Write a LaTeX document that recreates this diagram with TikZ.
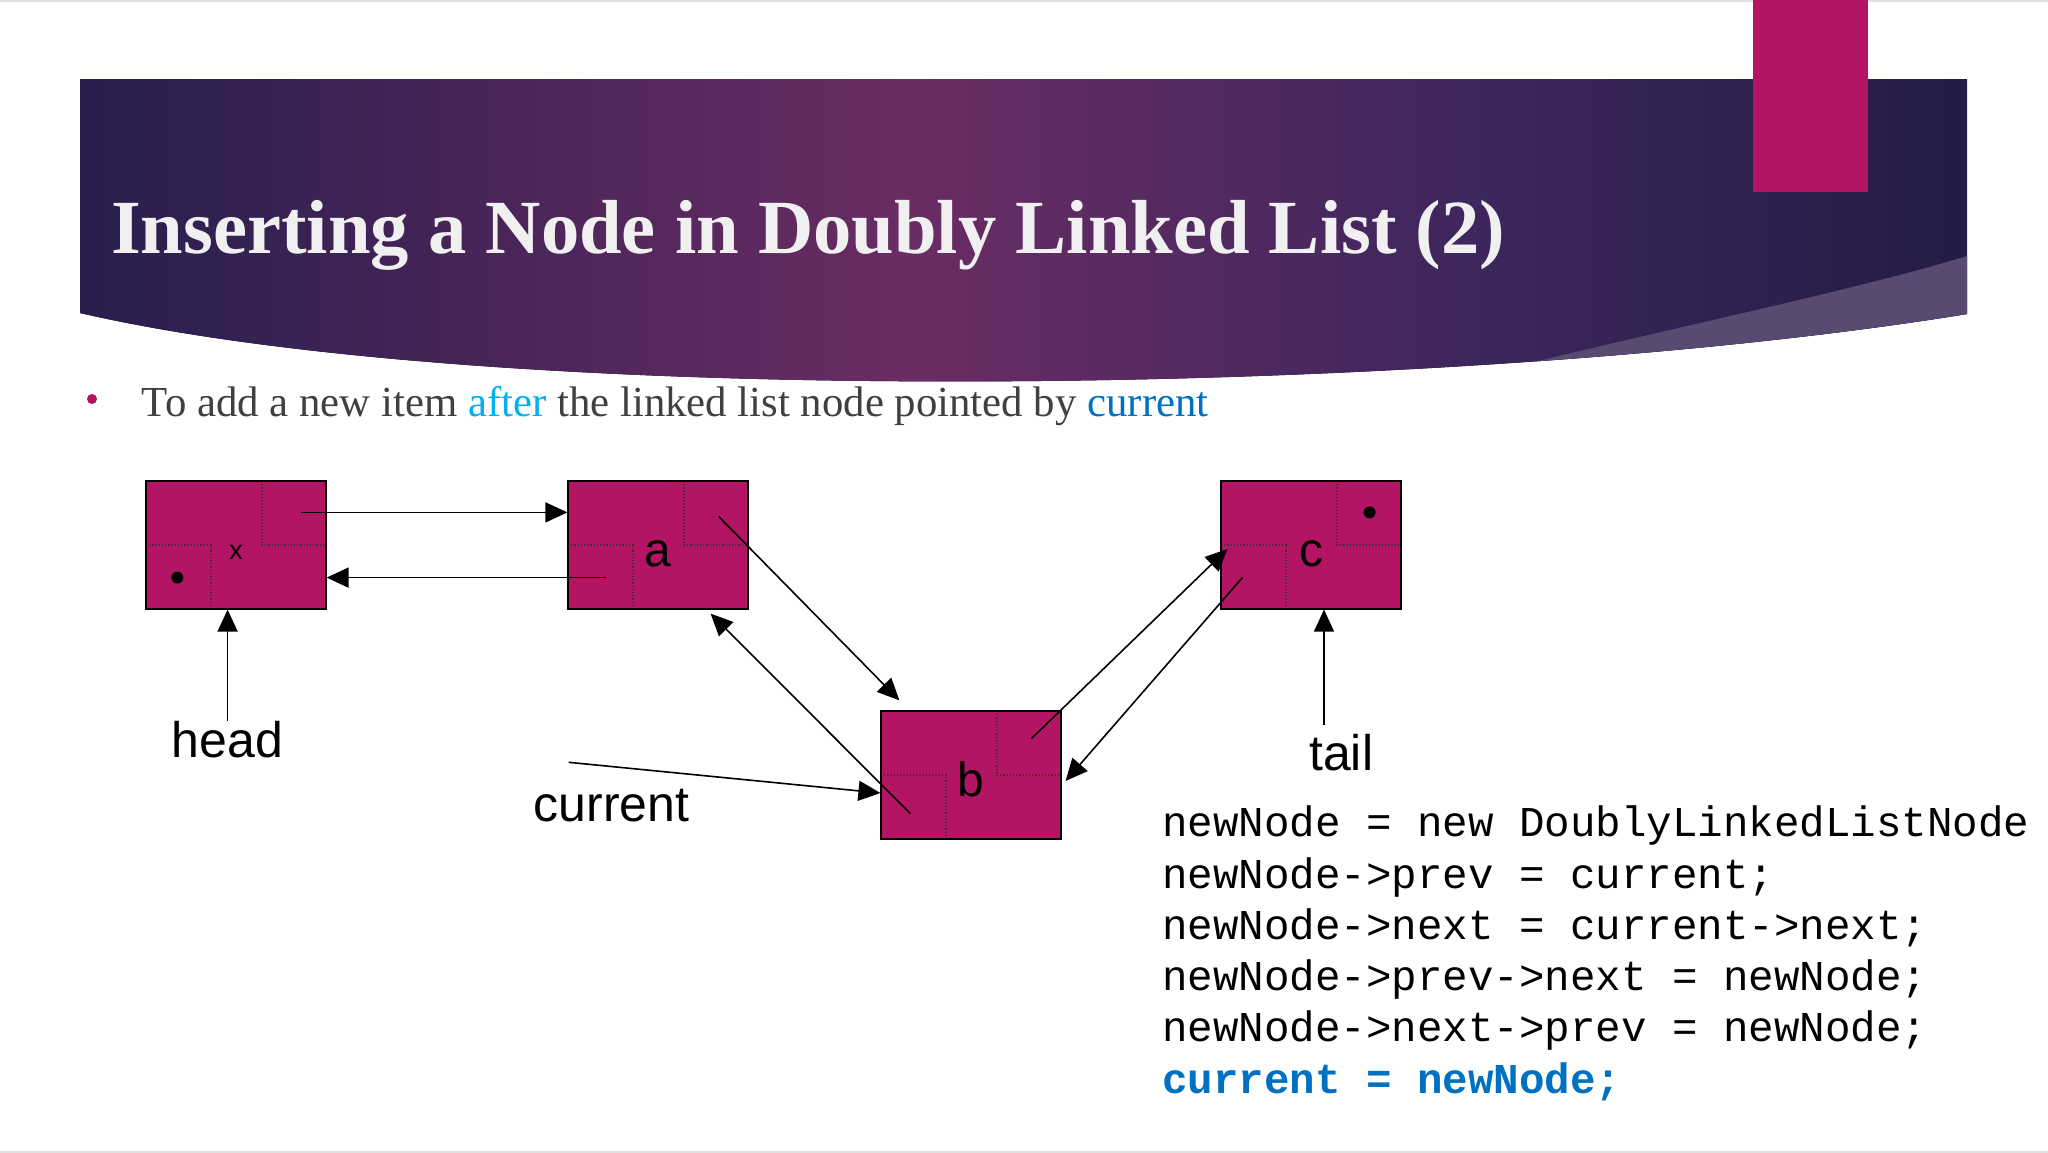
\documentclass[tikz,border=0pt]{standalone}
\usepackage{fontspec}
\setmainfont{Liberation Serif}
\setsansfont{Liberation Sans}
\setmonofont{Liberation Mono}
\usetikzlibrary{arrows.meta,calc}
\definecolor{boxred}{RGB}{180,20,100}
\definecolor{bandark}{RGB}{40,30,78}
\definecolor{banmid}{RGB}{106,44,100}
\definecolor{banglow}{RGB}{62,38,94}
\definecolor{banright}{RGB}{35,28,68}
\definecolor{swoosh}{RGB}{88,74,112}
\definecolor{titlegray}{RGB}{240,240,240}
\definecolor{textgray}{RGB}{64,64,64}
\definecolor{afterblue}{RGB}{0,176,240}
\definecolor{curblue}{RGB}{0,112,192}
\tikzset{
  listbox/.style={rectangle, draw, line width=1.2pt, fill=boxred,
    minimum width=180pt, minimum height=128pt, inner sep=0pt,
    font=\sffamily\fontsize{48}{48}\selectfont, text height=42pt, text depth=0pt,
    path picture={
      \draw[dotted, line width=1.2pt, black!80]
        ([xshift=-64pt]path picture bounding box.north east) |- (path picture bounding box.east);
      \draw[dotted, line width=1.2pt, black!80]
        (path picture bounding box.west) -| ([xshift=65pt]path picture bounding box.south west);
    }},
  ptr/.style={draw, line width=1.6pt, -{Triangle[length=22pt,width=20pt]}},
  lbl/.style={inner sep=0pt, font=\sffamily\fontsize{50}{50}\selectfont},
  code/.style={inner sep=0pt, anchor=base west, font=\ttfamily\fontsize{42.5}{51}\selectfont}
}
\begin{document}
\begin{tikzpicture}[x=1pt, y=-1pt]
    \useasboundingbox (0,0) rectangle (2048,1152);
    \draw[black!12, line width=3pt] (0,0) -- (2048,0);
    \draw[black!12, line width=3pt] (0,1152) -- (2048,1152);
    % Title banner
    \begin{scope}
      \clip (80,79) -- (1967,79) -- (1967,314) .. controls (1450,398) and (500,410) .. (80,313) -- cycle;
      \fill[left color=bandark, right color=banmid] (80,70) rectangle (914,420);
      \fill[left color=banmid, right color=banglow] (914,70) rectangle (1467,420);
      \fill[left color=banglow, right color=banright] (1467,70) rectangle (1967,420);
      \fill[swoosh] (1400,420) -- (1470,378) .. controls (1650,332) and (1850,292) .. (1967,256) -- (2000,256) -- (2000,420) -- cycle;
    \end{scope}
    \fill[boxred] (1753,0) rectangle (1868,192);
    \node[anchor=base west, inner sep=0pt, text=titlegray, font=\bfseries\fontsize{76.6}{90}\selectfont] (title) at (111,253) {Inserting a Node in Doubly Linked List (2)};
    % Bullet line
    \fill[boxred] (92,399) circle (5pt);
    \node[anchor=base west, inner sep=0pt, text=textgray, font=\fontsize{42.8}{50}\selectfont] (intro) at (141.7,416.7) {To add a new item \textcolor{afterblue}{after} the linked list node pointed by \textcolor{curblue}{current}};
    % Place nodes
    \node[listbox, font=\sffamily\fontsize{27}{27}\selectfont, text height=28pt] (nh) at (236,545) {x};
    \node[listbox] (na) at (658,545) {a};
    \node[listbox] (nb) at (971,775) {b};
    \node[listbox] (nc) at (1311,545) {c};
    \fill ($(nh.south west)+(32,-32)$) circle (6pt);
    \fill ($(nc.north east)+(-32,32)$) circle (6pt);
    % Labels
    \node[lbl, anchor=base] (lhead) at (227.6,757.7) {head};
    \node[lbl, anchor=base west] (lcur) at (533.4,821.7) {current};
    \node[lbl, anchor=base west] (ltail) at (1309,770) {tail};
    \coordinate (hn) at ($(nh.north east)+(-26,32)$);
    \coordinate (ap) at ($(na.south west)+(39,-32)$);
    \coordinate (an) at ($(na.north east)+(-30,36)$);
    \coordinate (bp) at ($(nb.south west)+(30,-26)$);
    \coordinate (bn) at ($(nb.north east)+(-30,28)$);
    \coordinate (cp) at ($(nc.south west)+(22,-32)$);
    \coordinate (cur) at (568.6,762.3);
    \coordinate (ct) at (1324,725);
    % Draw edges
    \path[ptr] (hn) -- (na.west |- hn);
    \path[ptr] (ap) -- (nh.east |- ap);
    \path[ptr] (an) -- ($(nb.north west)+(19,-10)$);
    \path[ptr] (bp) -- ($(na.south east)+(-38,4)$);
    \path[ptr] (bn) -- ($(nc.west)+(7,4)$);
    \path[ptr] (cp) -- ($(nb.east)+(4,6)$);
    \path[ptr] (cur) -- ($(nb.west)+(0,18)$);
    \path[ptr] (lhead.north) -- (lhead.north |- nh.south);
    \path[ptr] (ct) -- (ct |- nc.south);
    % Code
    \node[code] (code1) at (1162,836.7) {newNode = new DoublyLinkedListNode};
    \node[code] (code2) at (1162,888) {newNode->prev = current;};
    \node[code] (code3) at (1162,939.3) {newNode->next = current->next;};
    \node[code] (code4) at (1162,990.6) {newNode->prev->next = newNode;};
    \node[code] (code5) at (1162,1041.9) {newNode->next->prev = newNode;};
    \node[code, text=curblue, font=\ttfamily\bfseries\fontsize{42.5}{51}\selectfont] (code6) at (1162,1093.2) {current = newNode;};
\end{tikzpicture}
\end{document}
